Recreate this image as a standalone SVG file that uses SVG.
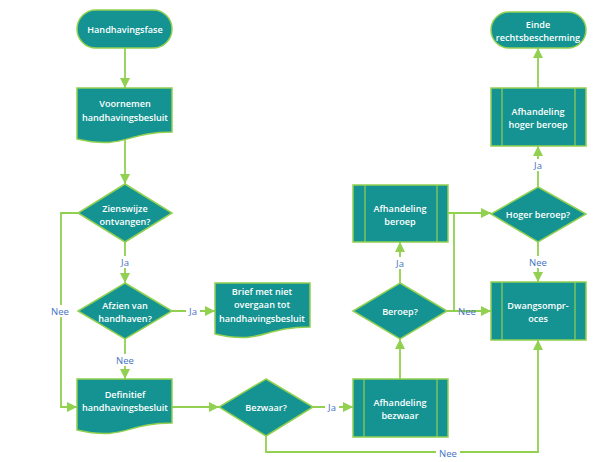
<svg xmlns="http://www.w3.org/2000/svg" width="597" height="462" viewBox="0 0 597 462">
<style>
.n{fill:#149392;stroke:#92D050;stroke-width:1.5}
.i{fill:none;stroke:#92D050;stroke-width:1.2}
.t{fill:#fff;font-family:"Open Sans","Liberation Sans",sans-serif;font-size:9.1px;font-weight:600;text-anchor:middle}
.c{fill:none;stroke:#92D050;stroke-width:1.8}
.l{fill:#4472C4;font-family:"Open Sans","Liberation Sans",sans-serif;font-size:9.5px;text-anchor:middle}
.bg{fill:#fff}
</style>
<defs>
<marker id="a" markerWidth="10" markerHeight="10" viewBox="0 0 10 10" refX="10" refY="5" orient="auto" markerUnits="userSpaceOnUse">
<path d="M0,0 L10,5 L0,10 Z" fill="#92D050"/>
</marker>
</defs>
<rect width="597" height="462" fill="#fff"/>
<g id="connectors">
<path class="c" d="M125,48 V88" marker-end="url(#a)"/>
<path class="c" d="M125,139 V184" marker-end="url(#a)"/>
<path class="c" d="M125,242 V283" marker-end="url(#a)"/>
<path class="c" d="M78,213 H61 V407 H77" marker-end="url(#a)"/>
<path class="c" d="M172,311 H215" marker-end="url(#a)"/>
<path class="c" d="M125,339 V379" marker-end="url(#a)"/>
<path class="c" d="M172,407 H219" marker-end="url(#a)"/>
<path class="c" d="M313,407 H353" marker-end="url(#a)"/>
<path class="c" d="M266,436 V452 H538 V340" marker-end="url(#a)"/>
<path class="c" d="M400,379 V339" marker-end="url(#a)"/>
<path class="c" d="M400,283 V242" marker-end="url(#a)"/>
<path class="c" d="M447,311 H491" marker-end="url(#a)"/>
<path class="c" d="M448,213 H491" marker-end="url(#a)"/>
<path class="c" d="M454,213 V311"/>
<path class="c" d="M538,187 V146" marker-end="url(#a)"/>
<path class="c" d="M538,88 V48" marker-end="url(#a)"/>
<path class="c" d="M538,242 V282" marker-end="url(#a)"/>
<rect class="bg" x="117" y="256" width="16" height="12"/><text class="l" x="125" y="265.5">Ja</text>
<rect class="bg" x="48" y="305" width="24" height="12"/><text class="l" x="60" y="314.5">Nee</text>
<rect class="bg" x="186" y="305" width="14" height="12"/><text class="l" x="193" y="314.5">Ja</text>
<rect class="bg" x="113" y="354" width="24" height="12"/><text class="l" x="125" y="363.5">Nee</text>
<rect class="bg" x="325" y="401" width="14" height="12"/><text class="l" x="332" y="410.5">Ja</text>
<rect class="bg" x="436" y="447" width="24" height="12"/><text class="l" x="448" y="456.5">Nee</text>
<rect class="bg" x="392" y="257" width="16" height="12"/><text class="l" x="400" y="266.5">Ja</text>
<text class="l" x="467" y="314.5">Nee</text>
<rect class="bg" x="530" y="159" width="16" height="12"/><text class="l" x="538" y="168.5">Ja</text>
<rect class="bg" x="526" y="256" width="24" height="12"/><text class="l" x="538" y="265.5">Nee</text>
</g>
<g id="handhavingsfase">
<rect class="n" x="77" y="10" width="95" height="38" rx="19"/>
<text class="t" x="125" y="32.5">Handhavingsfase</text>
</g>
<g id="voornemen">
<path class="n" d="M77,88 H172 V132 C125,132 125,150 77,139 Z"/>
<text class="t" x="125" y="106.5">Voornemen</text>
<text class="t" x="125" y="120.5">handhavingsbesluit</text>
</g>
<g id="zienswijze">
<path class="n" d="M125,184 L172,213 L125,242 L78,213 Z"/>
<text class="t" x="125" y="211.5">Zienswijze</text>
<text class="t" x="125" y="224.5">ontvangen?</text>
</g>
<g id="afzien">
<path class="n" d="M125,283 L172,311 L125,339 L78,311 Z"/>
<text class="t" x="125" y="308.5">Afzien van</text>
<text class="t" x="125" y="321.5">handhaven?</text>
</g>
<g id="brief">
<path class="n" d="M215,283 H310 V327 C262,327 262,345 215,334 Z"/>
<text class="t" x="262" y="294.5">Brief met niet</text>
<text class="t" x="262" y="308">overgaan tot</text>
<text class="t" x="262" y="321.5">handhavingsbesluit</text>
</g>
<g id="definitief">
<path class="n" d="M77,379 H172 V423 C125,423 125,441 77,430 Z"/>
<text class="t" x="125" y="397.5">Definitief</text>
<text class="t" x="125" y="410.5">handhavingsbesluit</text>
</g>
<g id="bezwaar">
<path class="n" d="M266,379 L313,407 L266,436 L219,407 Z"/>
<text class="t" x="266" y="410.5">Bezwaar?</text>
</g>
<g id="afhandeling-bezwaar">
<rect class="n" x="353" y="379" width="95" height="58"/>
<path class="i" d="M364,379 V437 M437,379 V437"/>
<text class="t" x="400" y="405.5">Afhandeling</text>
<text class="t" x="400" y="418.5">bezwaar</text>
</g>
<g id="beroep">
<path class="n" d="M400,283 L447,311 L400,339 L353,311 Z"/>
<text class="t" x="400" y="314.5">Beroep?</text>
</g>
<g id="afhandeling-beroep">
<rect class="n" x="353" y="185" width="95" height="57"/>
<path class="i" d="M365,185 V242 M437,185 V242"/>
<text class="t" x="400" y="211.5">Afhandeling</text>
<text class="t" x="400" y="224.5">beroep</text>
</g>
<g id="hoger-beroep">
<path class="n" d="M538,187 L586,214 L538,242 L491,214 Z"/>
<text class="t" x="538" y="217.5">Hoger beroep?</text>
</g>
<g id="dwangsomproces">
<rect class="n" x="491" y="282" width="95" height="58"/>
<path class="i" d="M502,282 V340 M575,282 V340"/>
<text class="t" x="538" y="308.5">Dwangsompr-</text>
<text class="t" x="538" y="321.5">oces</text>
</g>
<g id="afhandeling-hoger-beroep">
<rect class="n" x="491" y="88" width="95" height="58"/>
<path class="i" d="M502,88 V146 M575,88 V146"/>
<text class="t" x="538" y="114.5">Afhandeling</text>
<text class="t" x="538" y="127.5">hoger beroep</text>
</g>
<g id="einde">
<rect class="n" x="491" y="12" width="95" height="36" rx="18"/>
<text class="t" x="538" y="27.5">Einde</text>
<text class="t" x="538" y="40.5">rechtsbescherming</text>
</g>
</svg>
